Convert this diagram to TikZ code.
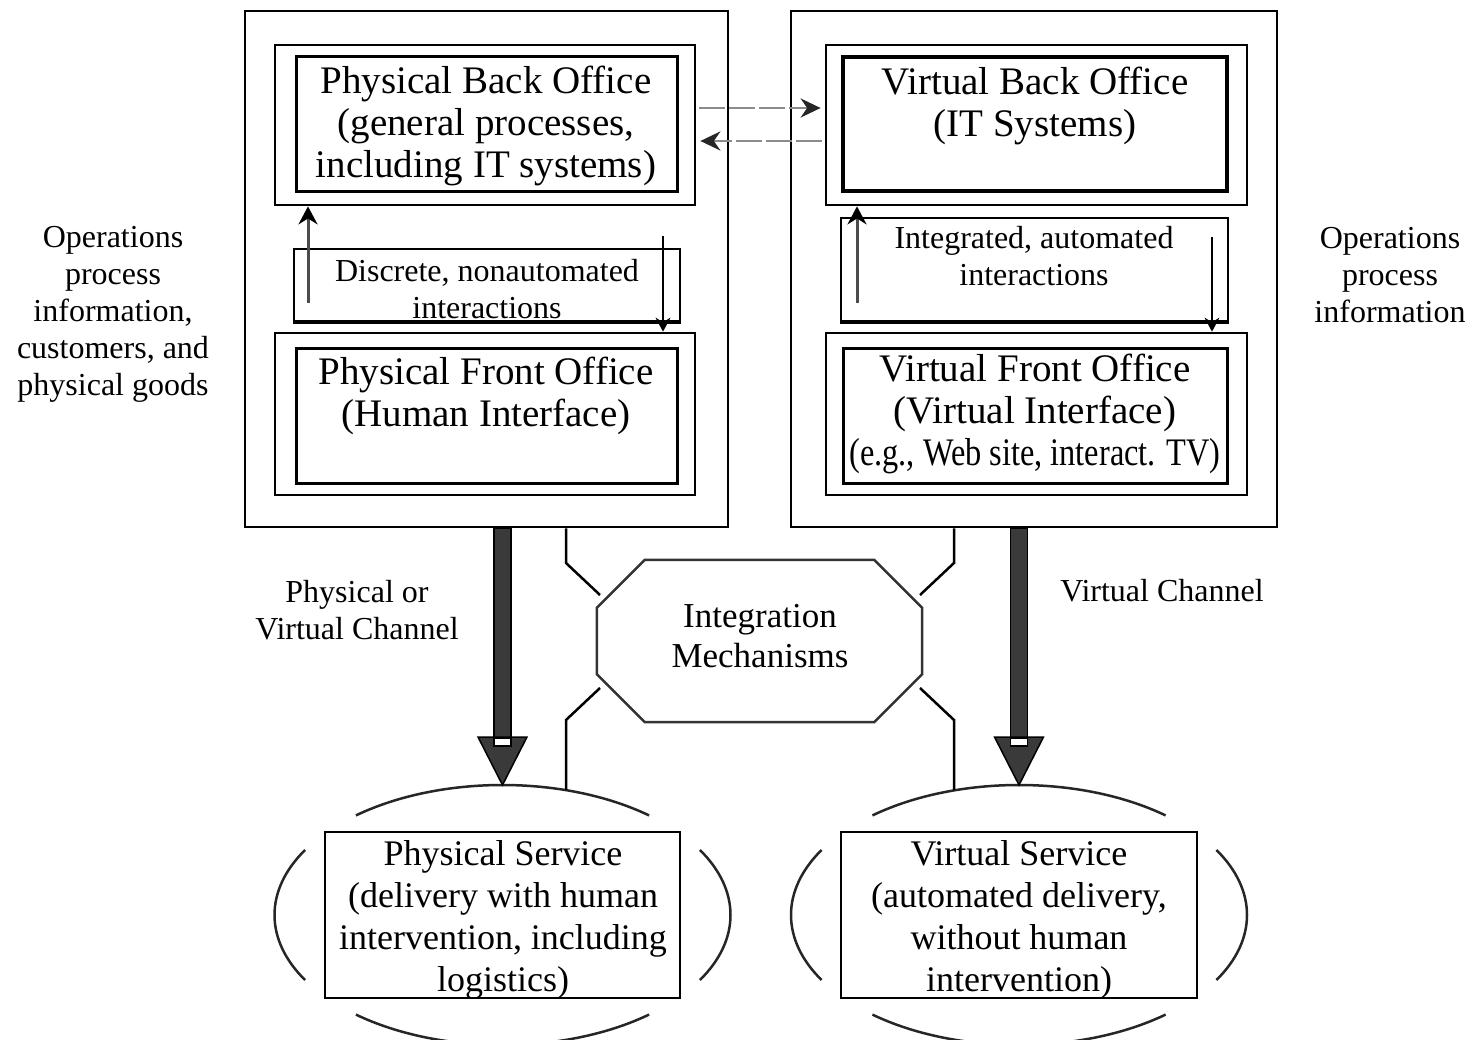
\documentclass[tikz,border=0pt]{standalone}
\usepackage{fontspec}
\setmainfont{Liberation Serif}
\usetikzlibrary{arrows.meta,calc}
\definecolor{fatgray}{HTML}{3A3A3A}
\definecolor{dashgray}{HTML}{8C8C8C}
\begin{document}
\begin{tikzpicture}[x=1pt,y=-1pt,
  frame/.style={draw=black, line width=2.7pt, inner sep=0pt},
  inframe/.style={draw=black, line width=3pt, inner sep=0pt},
  lbl/.style={inner sep=0pt, align=center, text=black},
  bigtxt/.style={lbl, font=\fontsize{39}{42}\selectfont},
  smalltxt/.style={lbl, font=\fontsize{32}{37}\selectfont},
  midtxt/.style={lbl, font=\fontsize{35}{40}\selectfont},
  servtxt/.style={lbl, font=\fontsize{36}{42}\selectfont},
  dasharr/.style={draw=dashgray, line width=2.8pt, dash pattern=on 26pt off 4pt,
    -{Stealth[length=20pt,width=19pt,color=black!85]}},
  uparr/.style={draw=black!70, line width=3pt, -{Stealth[length=18pt,width=19pt,color=black]}},
  downarr/.style={draw=black, line width=1.5pt, -{Stealth[length=14pt,width=15pt]}},
  conn/.style={draw=black, line width=2.5pt},
  ellarc/.style={draw=black!85, line width=2.5pt},
  fatshaft/.style={draw=black, line width=1.5pt, fill=fatgray}
]
\useasboundingbox (0,0) rectangle (1470,1040);

% ---------- left column ----------
\node[frame, minimum width=483pt, minimum height=516pt] (Lbig) at (486.5,269) {};
\node[frame, minimum width=420pt, minimum height=160pt] (PBOo) at (485,125) {};
\node[inframe, minimum width=381pt, minimum height=135pt] (PBOi) at (486.5,124.5) {};
\node[draw=black, line width=2pt, inner sep=0pt, minimum width=386pt, minimum height=72pt] (Dis) at (487,285) {};
\draw[line width=4pt] (Dis.south west) -- (Dis.south east);
\node[frame, minimum width=420pt, minimum height=162pt] (PFOo) at (485,414) {};
\node[inframe, minimum width=381pt, minimum height=134pt] (PFOi) at (486.5,416) {};

\node[bigtxt] (tPBO) at (486,126) {Physical Back Office\\(general processes,\\including IT systems)};
\node[smalltxt] (tDis) at (487,289) {Discrete, nonautomated\\interactions};
\node[bigtxt] (tPFO) at (486,396) {Physical Front Office\\(Human Interface)};

\coordinate (u1) at (308,303);
\draw[uparr] (u1) -- (u1 |- PBOo.south);
\coordinate (d1) at (663,236);
\draw[downarr] (d1) -- (d1 |- PFOo.north);

% ---------- right column ----------
\node[frame, minimum width=486pt, minimum height=516pt] (Rbig) at (1034,269) {};
\node[frame, minimum width=421pt, minimum height=160pt] (VBOo) at (1036.5,125) {};
\node[draw=black, line width=4pt, inner sep=0pt, minimum width=384pt, minimum height=134pt] (VBOi) at (1035,124) {};
\node[draw=black, line width=2pt, inner sep=0pt, minimum width=387pt, minimum height=103pt] (Int) at (1034.5,269.5) {};
\draw[line width=4pt] (Int.south west) -- (Int.south east);
\node[frame, minimum width=421pt, minimum height=162pt] (VFOo) at (1036.5,414) {};
\node[inframe, minimum width=384pt, minimum height=134pt] (VFOi) at (1035,416) {};

\node[bigtxt] (tVBO) at (1035,106) {Virtual Back Office\\(IT Systems)};
\node[smalltxt] (tInt) at (1034,256) {Integrated, automated\\interactions};
\node[bigtxt] (tVFO) at (1035,414) {Virtual Front Office\\(Virtual Interface)\\\scalebox{0.83}[1]{(e.g., Web site, interact. TV)}};

\coordinate (u2) at (857,303);
\draw[uparr] (u2) -- (u2 |- VBOo.south);
\coordinate (d2) at (1212,237);
\draw[downarr] (d2) -- (d2 |- VFOo.north);

% ---------- dashed arrows between back offices ----------
\draw[dasharr, shorten <=3pt, shorten >=4pt] ([yshift=17pt]PBOo.east) -- ([yshift=17pt]VBOo.west);
\draw[dasharr, shorten <=3pt, shorten >=4pt] ([yshift=-16pt]VBOo.west) -- ([yshift=-16pt]PBOo.east);

% ---------- side texts ----------
\node[smalltxt] (tOpsL) at (113,314) {Operations\\process\\information,\\customers, and\\physical goods};
\node[smalltxt] (tOpsR) at (1390,275) {Operations\\process\\information};
\node[smalltxt] (tChL) at (357,610) {Physical or\\Virtual Channel};
\node[smalltxt] (tChR) at (1162,591) {Virtual Channel};

% ---------- integration mechanisms ----------
\node[inner sep=0pt, minimum width=325pt, minimum height=162pt] (IM) at (759.5,641) {};
\draw[draw=black!80, line width=2.5pt]
  ($(IM.north west)+(48,0)$) -- ($(IM.north east)+(-48,0)$) -- ($(IM.north east)+(0,48)$)
  -- ($(IM.south east)+(0,-48)$) -- ($(IM.south east)+(-48,0)$) -- ($(IM.south west)+(48,0)$)
  -- ($(IM.south west)+(0,-48)$) -- ($(IM.north west)+(0,48)$) -- cycle;
\node[midtxt] (tIM) at (760,636) {Integration\\Mechanisms};

% ---------- services ----------
\node[frame, minimum width=355pt, minimum height=166pt] (PS) at (502.5,915) {};
\node[frame, minimum width=356pt, minimum height=166pt] (VS) at (1019,915) {};
\node[servtxt] (tPS) at (503,920) {Physical Service\\(delivery with human\\intervention, including\\logistics)};
\node[servtxt] (tVS) at (1019,920) {Virtual Service\\(automated delivery,\\without human\\intervention)};

\foreach \c in {PS,VS}{
  \draw[ellarc] (\c.center) ++(50:228pt and 130pt) arc[start angle=50, end angle=130, x radius=228pt, y radius=130pt];
  \draw[ellarc] (\c.center) ++(150:228pt and 130pt) arc[start angle=150, end angle=210, x radius=228pt, y radius=130pt];
  \draw[ellarc] (\c.center) ++(230:228pt and 130pt) arc[start angle=230, end angle=310, x radius=228pt, y radius=130pt];
  \draw[ellarc] (\c.center) ++(-30:228pt and 130pt) arc[start angle=-30, end angle=30, x radius=228pt, y radius=130pt];
}

% ---------- connectors to integration mechanisms ----------
\coordinate (cLa) at (566,563); \coordinate (cLb) at (600,595);
\coordinate (cLc) at (600,688); \coordinate (cLd) at (566,720);
\coordinate (eL) at (566,790);
\draw[conn] (Lbig.south -| cLa) -- (cLa) -- (cLb);
\draw[conn] (cLc) -- (cLd) -- (eL);
\coordinate (cRa) at (954,563); \coordinate (cRb) at (920,595);
\coordinate (cRc) at (920,688); \coordinate (cRd) at (954,720);
\coordinate (eR) at (954,790);
\draw[conn] (Rbig.south -| cRa) -- (cRa) -- (cRb);
\draw[conn] (cRc) -- (cRd) -- (eR);

% ---------- fat channel arrows ----------
\foreach \bx/\sv in {Lbig/PS, Rbig/VS}{
  \coordinate (fa) at (\bx.south -| \sv.north);
  \coordinate (fb) at ($(\sv.center)+(0,-130)$);
  \fill[fatshaft] ($(fa)+(-8.5,0)$) rectangle ($(fb)+(8.5,-47)$);
  \fill[fatshaft] ($(fb)+(-24.5,-48)$) -- ($(fb)+(24.5,-48)$) -- (fb) -- cycle;
  \filldraw[fill=white, draw=black, line width=1.2pt] ($(fb)+(-8.5,-47)$) rectangle ($(fb)+(8.5,-39)$);
}
\end{tikzpicture}
\end{document}
